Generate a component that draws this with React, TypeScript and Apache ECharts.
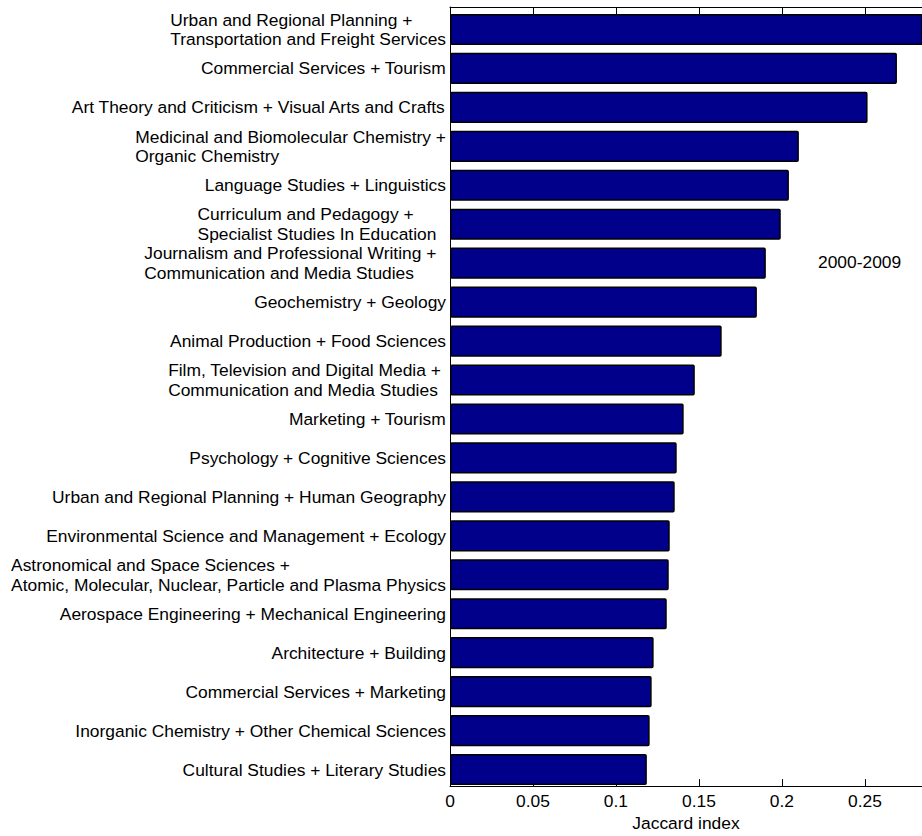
import React, { useEffect, useRef } from "react";
import * as echarts from "echarts";

const categories: string[] = [
  "Urban and Regional Planning +\nTransportation and Freight Services",
  "Commercial Services + Tourism",
  "Art Theory and Criticism + Visual Arts and Crafts",
  "Medicinal and Biomolecular Chemistry +\nOrganic Chemistry",
  "Language Studies + Linguistics",
  "Curriculum and Pedagogy +\nSpecialist Studies In Education  ",
  "Journalism and Professional Writing +  \nCommunication and Media Studies",
  "Geochemistry + Geology",
  "Animal Production + Food Sciences",
  "Film, Television and Digital Media + \nCommunication and Media Studies",
  "Marketing + Tourism",
  "Psychology + Cognitive Sciences",
  "Urban and Regional Planning + Human Geography",
  "Environmental Science and Management + Ecology",
  "Astronomical and Space Sciences +\nAtomic, Molecular, Nuclear, Particle and Plasma Physics",
  "Aerospace Engineering + Mechanical Engineering",
  "Architecture + Building",
  "Commercial Services + Marketing",
  "Inorganic Chemistry + Other Chemical Sciences",
  "Cultural Studies + Literary Studies",
];

const jaccard: number[] = [
  0.292, 0.2693, 0.2516, 0.2102, 0.2042, 0.1993, 0.1903, 0.1849, 0.1637, 0.1475,
  0.1408, 0.1366, 0.1354, 0.1324, 0.1318, 0.1306, 0.1227, 0.1215, 0.1203, 0.1186,
];

const xTickInterval = 0.05;
const xMin = 0;
const xMax = 0.2844;
const periodLabel = "2000-2009";
const axisName = "Jaccard index";

const FONT = "Arial, 'Liberation Sans', sans-serif";
const FS = 17.4;
const LH = 19.5;

export default function App() {
  const ref = useRef<HTMLDivElement>(null);

  useEffect(() => {
    if (!ref.current) return;
    const chart = echarts.init(ref.current, undefined, { renderer: "svg" });
    const axisLineStyle = { color: "#000", width: 1 };
    chart.setOption({
      animation: false,
      backgroundColor: "#ffffff",
      textStyle: { fontFamily: FONT },
      grid: [
        { left: 450, top: 7, right: 0, bottom: 44, containLabel: false },
        { left: 450, top: 10, right: 0, bottom: 47, containLabel: false },
      ],
      graphic: [
        {
          type: "text",
          x: 818,
          y: 262,
          style: {
            text: periodLabel,
            fontFamily: FONT,
            fontSize: FS,
            fill: "#000",
            verticalAlign: "middle",
            align: "left",
          },
        },
      ],
      xAxis: [
        {
          type: "value",
          gridIndex: 0,
          position: "bottom",
          min: xMin,
          max: xMax,
          interval: xTickInterval,
          name: axisName,
          nameLocation: "middle",
          nameGap: 26,
          nameTextStyle: { fontFamily: FONT, fontSize: FS, color: "#000" },
          axisLine: { show: true, onZero: false, lineStyle: axisLineStyle },
          axisTick: { show: true, inside: true, length: 7, lineStyle: { color: "#000" } },
          axisLabel: {
            show: true,
            margin: 6,
            fontFamily: FONT,
            fontSize: FS,
            color: "#000",
            showMaxLabel: false,
            formatter: (v: number) => String(parseFloat(v.toFixed(2))),
          },
          splitLine: { show: false },
        },
        {
          type: "value",
          gridIndex: 0,
          position: "top",
          min: xMin,
          max: xMax,
          interval: xTickInterval,
          axisLine: { show: true, onZero: false, lineStyle: axisLineStyle },
          axisTick: { show: true, inside: true, length: 7, lineStyle: { color: "#000" } },
          axisLabel: { show: false },
          splitLine: { show: false },
        },
        {
          type: "value",
          gridIndex: 1,
          min: xMin,
          max: xMax,
          show: false,
        },
      ],
      yAxis: [
        {
          type: "value",
          gridIndex: 0,
          min: 0,
          max: 1,
          axisLine: { show: true, onZero: false, lineStyle: axisLineStyle },
          axisTick: { show: false },
          axisLabel: { show: false },
          splitLine: { show: false },
        },
        {
          type: "category",
          gridIndex: 1,
          data: categories,
          inverse: true,
          axisLine: { show: false },
          axisTick: { show: false },
          axisLabel: {
            margin: 4,
            fontFamily: FONT,
            fontSize: FS,
            lineHeight: LH,
            color: "#000",
            formatter: (v: string) =>
              v
                .split("\n")
                .map((l) => `{a|${l}}`)
                .join("\n"),
            rich: {
              a: { fontFamily: FONT, fontSize: FS, lineHeight: LH, color: "#000", align: "left" },
            },
          },
        },
      ],
      series: [
        {
          type: "bar",
          xAxisIndex: 2,
          yAxisIndex: 1,
          data: jaccard,
          barCategoryGap: "20%",
          itemStyle: {
            color: "#00008b",
            borderColor: "#000",
            borderWidth: 1.5,
            borderRadius: 1,
          },
        },
        {
          type: "line",
          xAxisIndex: 1,
          yAxisIndex: 0,
          data: [],
          silent: true,
        },
      ],
    });
    return () => chart.dispose();
  }, []);

  return (
    <div
      ref={ref}
      style={{ position: "absolute", left: 0, top: 0, width: 922, height: 836 }}
    />
  );
}
